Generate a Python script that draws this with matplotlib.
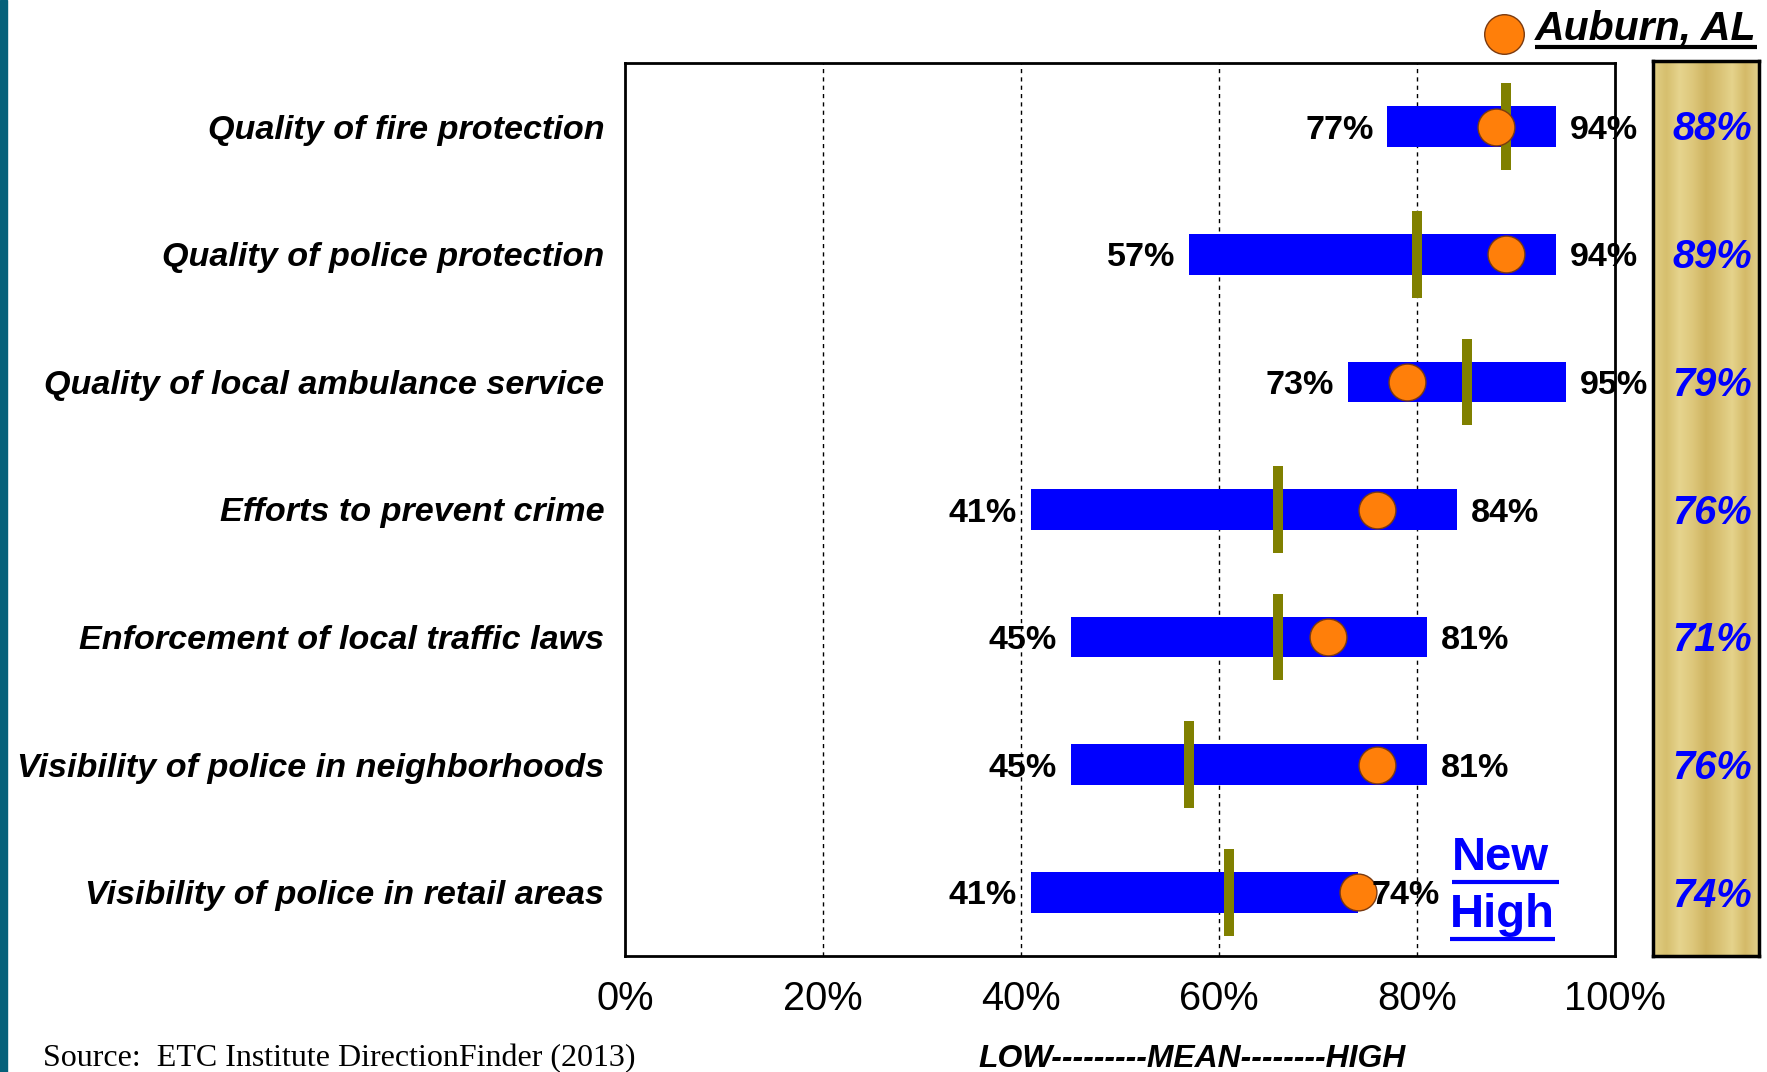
#!/usr/bin/env python
"""
Public safety satisfaction ranges (low / mean / high) with Auburn, AL results.
"""
import matplotlib
matplotlib.use('Agg')
import matplotlib.pyplot as plt
import numpy as np
from matplotlib import font_manager
from matplotlib.colors import LinearSegmentedColormap
from matplotlib.lines import Line2D
from matplotlib.patches import Rectangle

categories = [
    'Quality of fire protection',
    'Quality of police protection',
    'Quality of local ambulance service',
    'Efforts to prevent crime',
    'Enforcement of local traffic laws',
    'Visibility of police in neighborhoods',
    'Visibility of police in retail areas',
]
low = [77, 57, 73, 41, 45, 45, 41]
high = [94, 94, 95, 84, 81, 81, 74]
mean = [89, 80, 85, 66, 66, 57, 61]
auburn = [88, 89, 79, 76, 71, 76, 74]
x_ticks = [0, 20, 40, 60, 80, 100]

BLUE = '#0000FF'
ORANGE = '#FF7F0A'
OLIVE = '#808000'
TEAL = '#05617A'
gold_colors = ['#E2CF86', '#D6BF6E', '#E6D48E', '#DDC77B', '#CFB460',
               '#D9C274', '#E5D38C', '#D4BA68', '#E2D08C']

installed = {f.name for f in font_manager.fontManager.ttflist}
narrow = 'Liberation Sans Narrow' in installed
SANS = 'Liberation Sans Narrow' if narrow else 'Liberation Sans'


def fs(size):
    # narrow face is ~0.82 the width of the regular one
    return size if narrow else size * 0.82


W, H = 1767, 1072
fig = plt.figure(figsize=(W / 100, H / 100), dpi=100)
fig.patch.set_facecolor('white')

# dark stripe down the left edge of the slide
fig.add_artist(Rectangle((0, 0), 7 / W, 1, transform=fig.transFigure,
                         color=TEAL, zorder=0))

ax = fig.add_axes([625 / W, 116 / H, 990 / W, 893 / H])
rows = np.arange(len(categories))

ax.barh(rows, np.array(high) - np.array(low), left=low, height=0.32,
        color=BLUE, zorder=2)
for r, m in zip(rows, mean):
    ax.plot([m, m], [r - 0.34, r + 0.34], color=OLIVE, lw=7.2,
            solid_capstyle='butt', zorder=3)
ax.plot(auburn, rows, 'o', ms=26.5, mfc=ORANGE, mec='#7A3A10', mew=1,
        zorder=4, linestyle='none')

for r, lo, hi in zip(rows, low, high):
    ax.annotate(f'{lo}%', (lo, r), xytext=(-10, 0),
                textcoords='offset points', ha='right', va='center_baseline',
                fontsize=fs(30), family=SANS, fontweight='bold', zorder=5)
    ax.annotate(f'{hi}%', (hi, r), xytext=(10, 0),
                textcoords='offset points', ha='left', va='center_baseline',
                fontsize=fs(30), family=SANS, fontweight='bold', zorder=5)

ax.set_xlim(0, 100)
ax.set_ylim(len(categories) - 0.5, -0.5)
ax.set_xticks(x_ticks)
ax.set_xticklabels([f'{t}%' for t in x_ticks], family=SANS, fontsize=fs(35))
ax.set_yticks(rows)
ax.set_yticklabels(categories, family=SANS, fontsize=fs(30),
                   fontweight='bold', fontstyle='italic')
ax.tick_params(axis='x', length=0, pad=17)
ax.tick_params(axis='y', length=0, pad=15)
for x in x_ticks[1:-1]:
    ax.axvline(x, color='black', lw=1, linestyle=(0, (3, 3)), zorder=1)
for spine in ax.spines.values():
    spine.set_linewidth(2)

# gold panel with the Auburn values
gold = fig.add_axes([1653 / W, 116 / H, 106 / W, 895 / H])
gold_cmap = LinearSegmentedColormap.from_list('gold', gold_colors)
gold.imshow(np.linspace(0, 1, 200)[None, :], cmap=gold_cmap, aspect='auto',
            extent=(0, 1, len(categories) - 0.5, -0.5), interpolation='bicubic')
gold.set_xlim(0, 1)
gold.set_ylim(len(categories) - 0.5, -0.5)
gold.set_xticks([])
gold.set_yticks([])
for spine in gold.spines.values():
    spine.set_linewidth(2.5)
for r, v in zip(rows, auburn):
    gold.text(0.56, r, f'{v}%', ha='center', va='center_baseline',
              color=BLUE, fontsize=fs(35), family=SANS, fontweight='bold',
              fontstyle='italic')


def underline(text, lw, color, drop=2, extend=0):
    fig.canvas.draw()
    bb = text.get_window_extent()
    y = (bb.y0 - drop) / H
    fig.add_artist(Line2D([bb.x0 / W, (bb.x1 + extend) / W], [y, y],
                          transform=fig.transFigure, color=color, lw=lw,
                          solid_capstyle='butt'))


# legend: orange dot + underlined city name
fig.add_artist(Line2D([1504 / W], [(H - 34) / H], marker='o', ms=28.5,
                      mfc=ORANGE, mec='#7A3A10', mew=1,
                      transform=fig.transFigure, linestyle='none'))
city = fig.text(1535 / W, (H - 39) / H, 'Auburn, AL', ha='left',
                va='baseline', fontsize=fs(36), family=SANS,
                fontweight='bold', fontstyle='italic')
underline(city, 3, 'black', drop=0)

# "New High" flag on the retail row
new = ax.text(83.5, 6 - 0.27, 'New', ha='left', va='center', color=BLUE,
              fontsize=34, family='Liberation Sans', fontweight='bold')
hi_txt = ax.text(83.3, 6 + 0.18, 'High', ha='left', va='center', color=BLUE,
                 fontsize=34, family='Liberation Sans', fontweight='bold')
underline(new, 3, BLUE, extend=10)
underline(hi_txt, 3, BLUE, extend=0)

fig.text(1192 / W, (H - 1067) / H, 'LOW---------MEAN--------HIGH',
         ha='center', va='baseline', fontsize=fs(28), family=SANS,
         fontweight='bold', fontstyle='italic')
fig.text(43 / W, 6 / H, 'Source:  ETC Institute DirectionFinder (2013)',
         ha='left', va='baseline', fontsize=23, family='Liberation Serif')

fig.savefig('out.png', dpi=100)
